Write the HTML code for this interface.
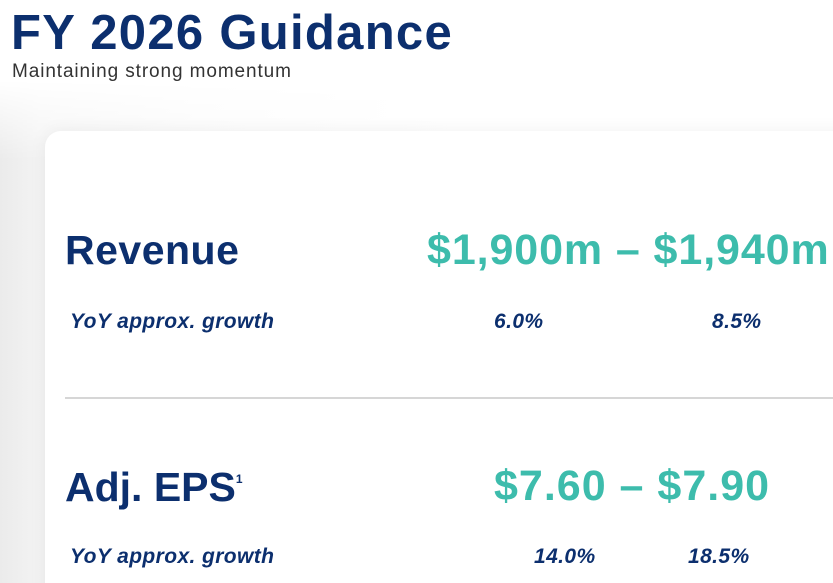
<!DOCTYPE html>
<html><head><style>
html,body{margin:0;width:833px;height:583px;overflow:hidden}
body{background:#fff;font-family:"Liberation Sans",sans-serif;position:relative}
.bg{position:absolute;left:0;top:0;width:833px;height:583px;background:linear-gradient(90deg,#ebebeb 0px,#f3f3f3 40px,#fafafa 200px,#fff 450px);-webkit-mask-image:linear-gradient(180deg,transparent 80px,#000 160px);mask-image:linear-gradient(180deg,transparent 80px,#000 160px)}
.t{position:absolute;white-space:nowrap}
.card{position:absolute;left:45px;top:131px;width:820px;height:480px;background:#fff;border-radius:16px;box-shadow:0 0 18px rgba(0,0,0,0.06)}
.navy{color:#0c2f6e;font-weight:bold}
.teal{color:#3dbcac;font-weight:bold}
.it{font-style:italic;font-weight:bold;color:#0c2f6e;font-size:21px;letter-spacing:0.4px}
</style></head><body>
<div class="bg"></div>
<div class="t navy" style="left:11px;top:5px;font-size:49px;letter-spacing:1.3px">FY 2026 Guidance</div>
<div class="t" style="left:12px;top:61px;font-size:19px;letter-spacing:0.9px;color:#333">Maintaining strong momentum</div>
<div class="card"></div>
<div class="t navy" style="left:65px;top:227px;font-size:41px;letter-spacing:0.5px">Revenue</div>
<div class="t teal" style="left:427px;top:226px;font-size:43px;letter-spacing:0.9px">$1,900m – $1,940m</div>
<div class="t it" style="left:70px;top:310px">YoY approx. growth</div>
<div class="t it" style="left:494px;top:310px">6.0%</div>
<div class="t it" style="left:712px;top:310px">8.5%</div>
<div style="position:absolute;left:65px;top:397px;width:768px;height:2px;background:#d6d6d6"></div>
<div class="t navy" style="left:65px;top:464px;font-size:41px;letter-spacing:0px">Adj. EPS<sup style="font-size:12px;vertical-align:top;position:relative;top:8px">1</sup></div>
<div class="t teal" style="left:494px;top:462px;font-size:43px;letter-spacing:1px">$7.60 – $7.90</div>
<div class="t it" style="left:70px;top:545px">YoY approx. growth</div>
<div class="t it" style="left:534px;top:545px">14.0%</div>
<div class="t it" style="left:688px;top:545px">18.5%</div>
</body></html>
